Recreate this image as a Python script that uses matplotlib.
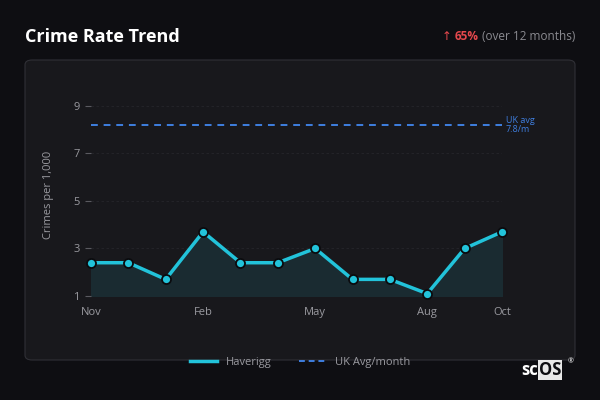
import matplotlib
matplotlib.use("Agg")
import matplotlib.pyplot as plt
from matplotlib.patches import FancyBboxPatch
from matplotlib.lines import Line2D

plt.rcParams['font.family'] = ['Open Sans', 'DejaVu Sans']

# data
months = ["Nov", "Dec", "Jan", "Feb", "Mar", "Apr", "May", "Jun", "Jul", "Aug", "Sep", "Oct"]
haverigg = [2.4, 2.4, 1.7, 3.7, 2.4, 2.4, 3.0, 1.7, 1.7, 1.1, 3.0, 3.7]
uk_avg_line = 8.2
tick_months = ["Nov", "Feb", "May", "Aug", "Oct"]
y_ticks = [1, 3, 5, 7, 9]

bg = "#0e0e12"
card = "#18181c"
cyan = "#22c3da"
blue = "#3f7fe0"

fig = plt.figure(figsize=(6, 4), dpi=100, facecolor=bg)

# card panel
panel = FancyBboxPatch((25 / 600, 40 / 400), 550 / 600, 300 / 400,
                       boxstyle="round,pad=0,rounding_size=0.012",
                       transform=fig.transFigure, facecolor=card,
                       edgecolor="#303036", linewidth=0.8, zorder=-5)
fig.patches.append(panel)

fig.text(25 / 600, 1 - 37 / 400, "Crime Rate Trend", color="white",
         fontsize=13, fontweight="bold", va="center", ha="left")

# header badge, laid out right to left
renderer = fig.canvas.get_renderer()
xr = 575
for txt, col, wt, fam in [("(over 12 months)", "#8a8a90", "normal", None),
                          ("65%", "#e5484d", "bold", None),
                          ("↑", "#e5484d", "normal", "DejaVu Sans")]:
    t = fig.text(xr / 600, 1 - 37 / 400, txt, color=col, fontsize=8.5,
                 fontweight=wt, va="center", ha="right")
    if fam:
        t.set_family(fam)
    w = t.get_window_extent(renderer).width
    xr = xr - w - 3

ax = fig.add_axes([91 / 600, 1 - 296 / 400, 411 / 600, 202 / 400])
ax.set_facecolor(card)
ax.set_zorder(1)
x = list(range(len(months)))
ax.fill_between(x, 1, haverigg, color="#1a2b31", zorder=1)
ax.plot(x, haverigg, color=cyan, lw=2.5, zorder=3,
        marker="o", markersize=6.5, markerfacecolor=cyan,
        markeredgecolor="#0b0b0e", markeredgewidth=1.3, clip_on=False)
ax.axhline(uk_avg_line, color=blue, lw=1.4, ls=(0, (3.5, 3)), zorder=2)
ax.text(11.1, uk_avg_line, "UK avg\n7.8/m", color=blue, fontsize=6.5,
        va="center", ha="left", linespacing=1.1)

ax.set_xlim(0, 11)
ax.set_ylim(1, 9.5)
ax.set_xticks([months.index(m) for m in tick_months])
ax.set_xticklabels(tick_months)
ax.set_yticks(y_ticks)
for v in y_ticks:
    ax.axhline(v, color="#26262b", lw=0.6, ls=(0, (3, 3)), zorder=0.5)
ax.tick_params(axis="y", labelcolor="#9a9aa0", labelsize=8, length=4, width=0.8,
               pad=4, color="#5a5a60")
ax.tick_params(axis="x", labelcolor="#9a9aa0", labelsize=8, length=0, pad=8)
for s in ax.spines.values():
    s.set_visible(False)
ax.set_ylabel("Crimes per 1,000", color="#9a9aa0", fontsize=8, labelpad=14)

handles = [Line2D([], [], color=cyan, lw=2.5),
           Line2D([], [], color=blue, lw=1.4, ls=(0, (3, 2)))]
fig.legend(handles, ["Haverigg", "UK Avg/month"], loc="center",
           bbox_to_anchor=(0.5, 1 - 362 / 400), ncol=2, frameon=False,
           fontsize=8, labelcolor="#9a9aa0", handlelength=2.4,
           columnspacing=2.5, handletextpad=0.8)

# logo
fig.text(538 / 600, 1 - 370 / 400, "sc", color="white", fontsize=12,
         fontweight="bold", ha="right", va="center")
fig.text(539 / 600, 1 - 370 / 400, "OS", color="#0e0e12", fontsize=12,
         fontweight="bold", ha="left", va="center",
         bbox=dict(boxstyle="square,pad=0.05", facecolor="#e8e8e8", edgecolor="none"))
fig.text(571 / 600, 1 - 362 / 400, "®", color="white", fontsize=5,
         ha="center", va="center")

fig.savefig("out.png", dpi=100, facecolor=bg)
